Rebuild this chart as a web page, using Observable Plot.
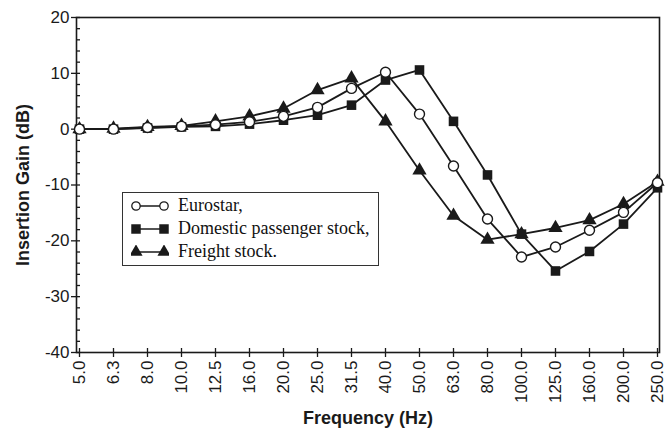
<!DOCTYPE html>
<html>
<head>
<meta charset="utf-8">
<script src="https://cdn.jsdelivr.net/npm/d3@7"></script>
<script src="https://cdn.jsdelivr.net/npm/@observablehq/plot@0.6"></script>
<style>
  body { margin: 0; background: #fff; }
  #wrap { position: relative; width: 665px; height: 430px; }
  #legend {
    position: absolute; left: 122px; top: 192px; width: 257px; height: 74px;
    border: 1px solid #333; background: #fff; box-sizing: border-box;
    font-family: "Liberation Serif", "Times New Roman", serif; font-size: 18px; color: #111;
    padding-top: 1px;
  }
  #legend .row { display: flex; align-items: center; height: 23px; }
  #legend svg { margin-left: 8px; margin-right: 9px; }
</style>
</head>
<body>
<div id="wrap"></div>
<script>
const freqs = ["5.0","6.3","8.0","10.0","12.5","16.0","20.0","25.0","31.5","40.0","50.0","63.0","80.0","100.0","125.0","160.0","200.0","250.0"];
const eurostar = [0, 0, 0.3, 0.5, 0.8, 1.3, 2.3, 3.9, 7.3, 10.2, 2.7, -6.6, -16.1, -22.9, -21.1, -18.1, -14.9, -9.6];
const domestic = [0, 0, 0.2, 0.4, 0.5, 0.9, 1.6, 2.5, 4.3, 8.8, 10.6, 1.4, -8.2, -18.8, -25.4, -21.9, -17.0, -10.5];
const freight  = [0, 0.1, 0.4, 0.6, 1.4, 2.3, 3.7, 7.0, 9.1, 1.4, -7.4, -15.5, -19.8, -18.8, -17.7, -16.3, -13.4, -9.4];
const yTicks = [-40, -30, -20, -10, 0, 10, 20];
const seriesNames = ["Eurostar,", "Domestic passenger stock,", "Freight stock."];

const rows = (vals) => freqs.map((f, i) => ({f, v: vals[i]}));
const ink = "#1a1a1a";

const chart = Plot.plot({
  width: 665, height: 430,
  marginLeft: 76, marginRight: 6, marginTop: 17, marginBottom: 78,
  x: {type: "point", domain: freqs, padding: 0},
  y: {domain: [-40, 20]},
  style: {fontFamily: "'Liberation Sans', Arial, sans-serif", fontSize: "17px", color: ink, background: "#fff"},
  marks: [
    Plot.axisY({ticks: yTicks, tickFormat: d => String(d), tickSize: 5, tickPadding: 2, label: null, fontSize: 17, strokeWidth: 1.3}),
    Plot.axisY({ticks: d3.range(-40, 21, 2), tickSize: -4, text: null, label: null, strokeWidth: 1.3}),
    Plot.axisX({tickSize: 5, tickRotate: -90, tickPadding: 3, label: null, fontSize: 17, strokeWidth: 1.3}),
    Plot.axisX({tickSize: -4, text: null, label: null, strokeWidth: 1.3}),
    Plot.frame({stroke: ink, strokeWidth: 1.6}),
    Plot.line(rows(freight), {x: "f", y: "v", stroke: ink, strokeWidth: 1.8}),
    Plot.dot(rows(freight), {x: "f", y: "v", symbol: "triangle", r: 5.3, fill: ink, stroke: "none"}),
    Plot.line(rows(domestic), {x: "f", y: "v", stroke: ink, strokeWidth: 1.8}),
    Plot.dot(rows(domestic), {x: "f", y: "v", symbol: "square", r: 5.4, fill: ink, stroke: "none"}),
    Plot.line(rows(eurostar), {x: "f", y: "v", stroke: ink, strokeWidth: 1.8}),
    Plot.dot(rows(eurostar), {x: "f", y: "v", symbol: "circle", r: 5, fill: "#fff", stroke: ink, strokeWidth: 1.4}),
    Plot.text(["Frequency (Hz)"], {frameAnchor: "bottom", dy: 71, textAnchor: "middle", fontWeight: "bold", fontSize: 18, fill: ink}),
    Plot.text(["Insertion Gain (dB)"], {frameAnchor: "left", dx: -53, textAnchor: "middle", rotate: -90, fontWeight: "bold", fontSize: 18, fill: ink})
  ]
});
const wrap = document.getElementById("wrap");
wrap.appendChild(chart);

// legend
const legend = document.createElement("div");
legend.id = "legend";
const syms = ["circle", "square", "triangle"];
seriesNames.forEach((name, i) => {
  const row = document.createElement("div");
  row.className = "row";
  const svg = d3.create("svg").attr("width", 38).attr("height", 14);
  svg.append("line").attr("x1", 5).attr("x2", 33).attr("y1", 7).attr("y2", 7).attr("stroke", ink).attr("stroke-width", 1.5);
  [5, 33].forEach(cx => {
    if (syms[i] === "circle") svg.append("circle").attr("cx", cx).attr("cy", 7).attr("r", 4.2).attr("fill", "#fff").attr("stroke", ink).attr("stroke-width", 1.3);
    else svg.append("path").attr("transform", `translate(${cx},7)`).attr("d", d3.symbol(syms[i] === "square" ? d3.symbolSquare : d3.symbolTriangle, syms[i] === "square" ? 90 : 75)()).attr("fill", ink);
  });
  row.appendChild(svg.node());
  const t = document.createElement("span");
  t.textContent = name;
  row.appendChild(t);
  legend.appendChild(row);
});
wrap.appendChild(legend);
</script>
</body>
</html>
